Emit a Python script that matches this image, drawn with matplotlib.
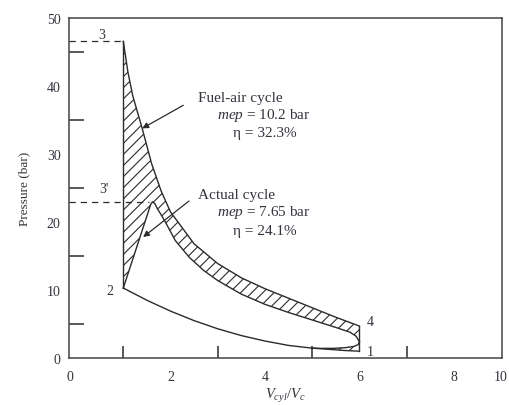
import numpy as np
import matplotlib.pyplot as plt

plt.rcParams['font.family'] = 'Liberation Serif'
plt.rcParams['mathtext.fontset'] = 'custom'
plt.rcParams['mathtext.rm'] = 'Liberation Serif'
plt.rcParams['mathtext.it'] = 'Liberation Serif:italic'
plt.rcParams['hatch.linewidth'] = 0.8

# fuel-air cycle, expansion 3 -> 4
fa_exp_v = [1.0, 1.1, 1.2, 1.4, 1.6, 1.8, 2.0, 2.5, 3.0, 3.5, 4.0, 4.5, 5.0, 5.5, 6.0]
fa_exp_p = [46.6, 42.0, 38.6, 33.8, 28.6, 24.6, 21.5, 16.8, 13.9, 11.8, 10.2, 8.8, 7.4, 6.0, 4.7]

# compression curve from 2 (shared by both cycles)
comp_v = [1.0, 1.5, 2.0, 2.5, 3.0, 3.5, 4.0, 4.5, 5.0]
comp_p = [10.3, 8.5, 6.9, 5.5, 4.3, 3.3, 2.5, 1.85, 1.45]

# fuel-air compression tail down to point 1
fa_tail_v = [5.0, 5.4, 5.7, 6.0]
fa_tail_p = [1.45, 1.25, 1.1, 1.0]

# actual cycle: combustion 2 -> 3' and expansion
act_exp_v = [1.0, 1.58, 1.62, 1.67, 1.72, 1.8, 1.9, 2.1, 2.4, 2.7, 3.0, 3.5, 4.0, 4.5,
             5.0, 5.5, 5.8, 5.93, 6.0]
act_exp_p = [10.3, 22.6, 23.0, 22.7, 22.0, 21.1, 19.9, 17.3, 14.8, 12.9, 11.4, 9.4, 7.9, 6.7,
             5.6, 4.5, 3.8, 3.2, 2.4]

# actual cycle: blowdown / pumping loop back to the compression curve
act_loop_v = [6.0, 5.97, 5.88, 5.7, 5.45, 5.2, 5.0]
act_loop_p = [2.4, 1.95, 1.7, 1.52, 1.42, 1.42, 1.45]

p3 = 46.6
p3a = 23.0

ink = '#2b2b2b'
txt = '#33333d'
fs = 11

fig = plt.figure(figsize=(5.1, 4.06), dpi=100)
ax = fig.add_axes([69/510, 47/406, 433/510, 340/406])

# hatched work-loss areas
hv = np.concatenate([[1.0], fa_exp_v, [6.0], act_exp_v[::-1]])
hp = np.concatenate([[10.3], fa_exp_p, [act_exp_p[-1]], act_exp_p[::-1]])
ax.fill(hv, hp, facecolor='none', edgecolor=ink, hatch='///', linewidth=0)
sv = np.concatenate([fa_tail_v, act_loop_v])
sp = np.concatenate([fa_tail_p, act_loop_p])
ax.fill(sv, sp, facecolor='none', edgecolor=ink, hatch='///', linewidth=0)

# fuel-air cycle outline
ax.plot(comp_v, comp_p, color=ink, lw=1)
ax.plot(fa_tail_v, fa_tail_p, color=ink, lw=1)
ax.plot([6.0, 6.0], [fa_tail_p[-1], fa_exp_p[-1]], color=ink, lw=1)
ax.plot(fa_exp_v, fa_exp_p, color=ink, lw=1)
ax.plot([1.0, 1.0], [comp_p[0], fa_exp_p[0]], color=ink, lw=1)

# actual cycle outline
ax.plot(act_exp_v, act_exp_p, color=ink, lw=1)
ax.plot(act_loop_v, act_loop_p, color=ink, lw=1)

# dashed level lines
ax.plot([-0.15, 1.0], [p3, p3], color=ink, lw=0.9, ls=(0, (5, 4)))
ax.plot([-0.15, 1.55], [p3a, p3a], color=ink, lw=0.9, ls=(0, (5, 4)))

# point labels
ax.text(0.55, 47.6, '3', fontsize=10, color=txt, ha='center', va='center')
ax.text(0.59, 24.9, "3'", fontsize=10, color=txt, ha='center', va='center')
ax.text(0.72, 10.0, '2', fontsize=10, color=txt, ha='center', va='center')
ax.text(6.23, 5.4, '4', fontsize=10, color=txt, ha='center', va='center')
ax.text(6.23, 1.0, '1', fontsize=10, color=txt, ha='center', va='center')

# annotations
ax.text(2.58, 38.4, 'Fuel-air cycle', fontsize=fs, color=txt, va='center')
ax.text(2.99, 35.9, r'$\mathit{mep}$ = 10.2 bar', fontsize=fs, color=txt, va='center')
ax.text(3.33, 33.2, 'η = 32.3%', fontsize=fs, color=txt, va='center')
ax.text(2.58, 24.0, 'Actual cycle', fontsize=fs, color=txt, va='center')
ax.text(2.99, 21.5, r'$\mathit{mep}$ = 7.65 bar', fontsize=fs, color=txt, va='center')
ax.text(3.33, 18.8, 'η = 24.1%', fontsize=fs, color=txt, va='center')

arrow = dict(arrowstyle='-|>', color=ink, lw=0.9, mutation_scale=9, shrinkA=0, shrinkB=0)
ax.annotate('', xy=(1.40, 33.8), xytext=(2.27, 37.2), arrowprops=arrow)
ax.annotate('', xy=(1.42, 17.8), xytext=(2.39, 23.1), arrowprops=arrow)

# axes
ax.set_xlim(-0.15, 9.02)
ax.set_ylim(0, 50.05)
ax.set_xticks([-0.12, 2, 4, 6, 8, 9.0])
ax.set_xticklabels(['0', '2', '4', '6', '8', '10'])
ax.set_xticks([1, 2, 3, 4, 5, 6, 7, 8], minor=True)
ax.set_yticks([0, 10, 20, 30, 40, 50])
ax.set_yticks([5, 10, 15, 20, 25, 30, 35, 40, 45], minor=True)
ax.tick_params(which='major', length=0, labelsize=10, labelcolor=txt)
ax.tick_params(axis='x', which='major', pad=9)
ax.tick_params(axis='y', which='major', pad=6)
ax.tick_params(axis='x', which='minor', direction='in', length=9, width=1.1, color=ink)
ax.tick_params(axis='y', which='minor', direction='in', length=11, width=1.1, color=ink)
for s in ax.spines.values():
    s.set_color('#444444')
    s.set_linewidth(1.1)

ax.set_xlabel(r'$V_{cyl}/V_c$', fontsize=10.5, color=txt, labelpad=2)
ax.set_ylabel('Pressure (bar)', fontsize=9.5, color=txt, labelpad=12)

fig.savefig('out.png', dpi=100)
